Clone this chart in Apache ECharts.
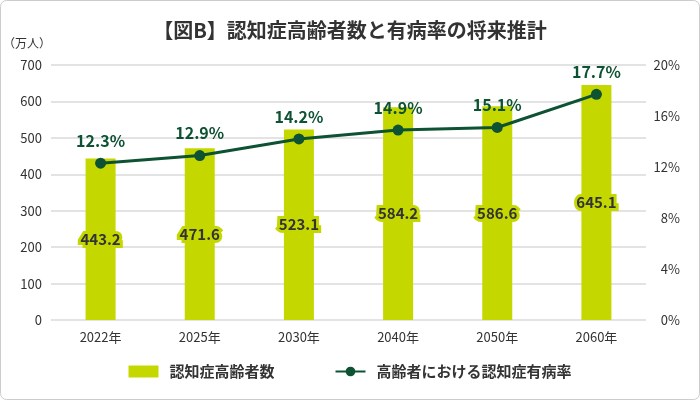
<!DOCTYPE html>
<html>
<head>
<meta charset="utf-8">
<script src="https://cdn.jsdelivr.net/npm/echarts@6/dist/echarts.min.js"></script>
<style>
  html, body { margin: 0; padding: 0; background: #fff; }
  #chart { width: 700px; height: 400px; }
</style>
</head>
<body>
<div id="chart"></div>
<script>
const years = ["2022年", "2025年", "2030年", "2040年", "2050年", "2060年"];
const patients = [443.2, 471.6, 523.1, 584.2, 586.6, 645.1];
const rates = [12.3, 12.9, 14.2, 14.9, 15.1, 17.7];

const barColor = "#c4d800";
const lineColor = "#0c5233";
const font = "'Noto Sans CJK JP', 'Noto Sans', sans-serif";

const chart = echarts.init(document.getElementById("chart"));
chart.setOption({
  textStyle: { fontFamily: font },
  animation: false,
  graphic: [
    {
      type: "rect",
      shape: { x: 0.5, y: 0.5, width: 699, height: 399, r: 6 },
      style: { fill: "none", stroke: "#cccccc", lineWidth: 1 }
    }
  ],
  title: {
    text: "【図B】認知症高齢者数と有病率の将来推計",
    left: "center",
    top: 15,
    textStyle: { fontSize: 20, fontWeight: "bold", color: "#333", fontFamily: font }
  },
  legend: {
    bottom: 16,
    itemGap: 60,
    itemWidth: 30,
    itemHeight: 12,
    textStyle: { fontSize: 15, color: "#333", fontWeight: "bold", fontFamily: font, padding: [0, 0, 0, 6] },
    data: [
      { name: "認知症高齢者数", icon: "rect" },
      { name: "高齢者における認知症有病率" }
    ]
  },
  grid: { left: 51, right: 54, top: 65, bottom: 80 },
  xAxis: {
    type: "category",
    data: years,
    axisLine: { show: false },
    axisTick: { show: false },
    axisLabel: { color: "#333", fontSize: 13, margin: 11 }
  },
  yAxis: [
    {
      type: "value",
      name: "（万人）",
      nameLocation: "end",
      nameGap: 16,
      nameTextStyle: { color: "#333", fontSize: 12, align: "right" },
      min: 0,
      max: 700,
      interval: 100,
      axisLabel: { color: "#333", fontSize: 13, margin: 9 },
      splitLine: { lineStyle: { color: "#e3e3e3", width: 2 } }
    },
    {
      type: "value",
      min: 0,
      max: 20,
      interval: 4,
      axisLabel: { color: "#333", fontSize: 13, formatter: "{value}%", align: "right", margin: 34 },
      splitLine: { show: false }
    }
  ],
  series: [
    {
      name: "認知症高齢者数",
      type: "bar",
      data: patients,
      barWidth: 30,
      itemStyle: { color: barColor },
      label: {
        show: true,
        position: "inside",
        color: "#333",
        fontSize: 15,
        fontWeight: "bold",
        textBorderColor: barColor,
        textBorderWidth: 6
      }
    },
    {
      name: "高齢者における認知症有病率",
      type: "line",
      yAxisIndex: 1,
      data: rates,
      symbol: "circle",
      symbolSize: 11,
      lineStyle: { color: lineColor, width: 3 },
      itemStyle: { color: lineColor },
      label: {
        show: true,
        position: "top",
        distance: 9,
        color: lineColor,
        fontSize: 16,
        fontWeight: "bold",
        formatter: p => p.value + "%"
      }
    }
  ]
});
</script>
</body>
</html>
